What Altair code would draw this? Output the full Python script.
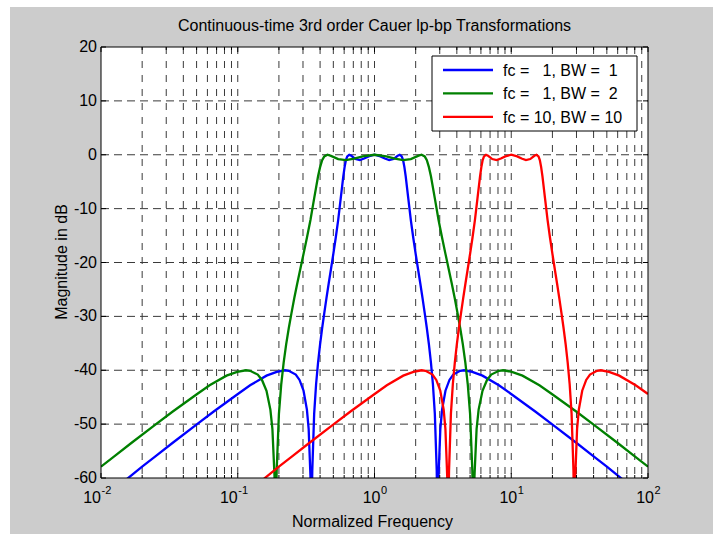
import altair as alt
import pandas as pd

# ---------------------------------------------------------------------------
# Magnitude responses (dB) of the three lowpass -> bandpass transformed
# 3rd order Cauer filters, sampled on a normalized frequency axis.
# ---------------------------------------------------------------------------
blue_freq = [0.01, 0.014283, 0.01999, 0.02498, 0.0333, 0.04988, 0.06637, 0.09902, 0.12311, 0.16228,
             0.19258, 0.22118, 0.23607, 0.26556, 0.28304, 0.30278, 0.32047, 0.33003, 0.34012, 0.34221,
             0.3486, 0.35078, 0.36205, 0.37398, 0.38661, 0.4, 0.41421, 0.42931, 0.44536, 0.46244,
             0.48062, 0.5, 0.52065, 0.54268, 0.56619, 0.59127, 0.60443, 0.61803, 0.63208, 0.65342,
             0.67703, 0.72649, 0.78078, 0.8402, 0.905, 1.0,
             1.10499, 1.1902, 1.28078, 1.37649, 1.47703, 1.53041, 1.58208, 1.61803, 1.65444, 1.69127,
             1.76619, 1.84269, 1.92066, 2.0, 2.08062, 2.16244, 2.24536, 2.32931, 2.41421, 2.5,
             2.58661, 2.67398, 2.76205, 2.85078, 2.8686, 2.92221, 2.94012, 3.03003, 3.12047, 3.30278,
             3.53305, 3.76556, 4.23607, 4.52118, 5.19258, 6.16228, 8.12311, 10.09902, 15.06637, 20.04988,
             30.0333, 40.02499, 50.02, 70.01429, 100.0]
blue_db = [-63.9, -60.9, -57.9, -56.0, -53.5, -50.1, -47.7, -44.5, -42.8, -41.0,
           -40.3, -40.0, -40.1, -40.8, -41.8, -43.8, -47.3, -50.9, -59.6, -63.8,
           -63.3, -58.6, -48.1, -42.6, -38.6, -35.2, -32.2, -29.4, -26.6, -23.9,
           -21.2, -18.4, -15.4, -12.1, -8.1, -4.0, -2.3, -1.0, -0.3, 0.0,
           -0.2, -0.8, -1.0, -0.7, -0.3, 0.0,
           -0.3, -0.7, -1.0, -0.8, -0.2, 0.0, -0.3, -1.0, -2.3, -4.0,
           -8.1, -12.1, -15.4, -18.4, -21.2, -23.9, -26.6, -29.4, -32.2, -35.2,
           -38.6, -42.6, -48.1, -58.6, -63.3, -63.8, -59.6, -50.9, -47.3, -43.8,
           -41.8, -40.8, -40.1, -40.0, -40.3, -41.0, -42.8, -44.5, -47.7, -50.1,
           -53.5, -56.0, -57.9, -60.9, -63.9]

green_freq = [0.01, 0.012498, 0.01666, 0.02498, 0.0333, 0.04988, 0.06226, 0.08276, 0.09902, 0.11475,
              0.12311, 0.14005, 0.15037, 0.16228, 0.17321, 0.17924, 0.18568, 0.18702, 0.19116, 0.19258,
              0.2, 0.20799, 0.21661, 0.22594, 0.23607, 0.24709, 0.25913, 0.27231, 0.2868, 0.30278,
              0.32047, 0.34012, 0.36205, 0.38661, 0.4, 0.41421, 0.42931, 0.45308, 0.48062, 0.54268,
              0.61803, 0.70948, 0.8198, 1.0,
              1.2198, 1.40948, 1.61803, 1.84269, 2.08062, 2.20711, 2.32931, 2.41421, 2.5, 2.58661,
              2.76205, 2.94012, 3.12047, 3.30278, 3.4868, 3.67231, 3.85913, 4.04709, 4.23607, 4.42594,
              4.61661, 4.80799, 5.0, 5.19258, 5.23117, 5.34706, 5.38568, 5.57924, 5.77321, 6.16228,
              6.65037, 7.14005, 8.12311, 8.71475, 10.09902, 12.08276, 16.06226, 20.04988, 30.0333, 40.02498,
              60.01666, 80.0125, 100.0]
green_db = [-57.9, -56.0, -53.5, -50.1, -47.7, -44.5, -42.8, -41.0, -40.3, -40.0,
            -40.1, -40.8, -41.8, -43.8, -47.3, -50.9, -59.6, -63.8, -63.3, -58.6,
            -48.1, -42.6, -38.6, -35.2, -32.2, -29.4, -26.6, -23.9, -21.2, -18.4,
            -15.4, -12.1, -8.1, -4.0, -2.3, -1.0, -0.3, 0.0, -0.2, -0.8,
            -1.0, -0.7, -0.3, 0.0,
            -0.3, -0.7, -1.0, -0.8, -0.2, 0.0, -0.3, -1.0, -2.3, -4.0,
            -8.1, -12.1, -15.4, -18.4, -21.2, -23.9, -26.6, -29.4, -32.2, -35.2,
            -38.6, -42.6, -48.1, -58.6, -63.3, -63.8, -59.6, -50.9, -47.3, -43.8,
            -41.8, -40.8, -40.1, -40.0, -40.3, -41.0, -42.8, -44.5, -47.7, -50.1,
            -53.5, -56.0, -57.9]

red_freq = [0.1, 0.14283, 0.1999, 0.2498, 0.333, 0.4988, 0.6637, 0.9902, 1.2311, 1.6228,
            1.9258, 2.2118, 2.3607, 2.6556, 2.8304, 3.0278, 3.2047, 3.3003, 3.4012, 3.4221,
            3.486, 3.5078, 3.6205, 3.7398, 3.8661, 4.0, 4.1421, 4.2931, 4.4536, 4.6244,
            4.8062, 5.0, 5.2065, 5.4268, 5.6619, 5.9127, 6.0443, 6.1803, 6.3208, 6.5342,
            6.7703, 7.2649, 7.8078, 8.402, 9.05, 10.0,
            11.0499, 11.902, 12.8078, 13.7649, 14.7703, 15.3041, 15.8208, 16.1803, 16.5444, 16.9127,
            17.6619, 18.4269, 19.2066, 20.0, 20.8062, 21.6244, 22.4536, 23.2931, 24.1421, 25.0,
            25.8661, 26.7398, 27.6205, 28.5078, 28.686, 29.2221, 29.4012, 30.3003, 31.2047, 33.0278,
            35.3305, 37.6556, 42.3607, 45.2118, 51.9258, 61.6228, 81.2311, 100.0]
red_db = [-63.9, -60.9, -57.9, -56.0, -53.5, -50.1, -47.7, -44.5, -42.8, -41.0,
          -40.3, -40.0, -40.1, -40.8, -41.8, -43.8, -47.3, -50.9, -59.6, -63.8,
          -63.3, -58.6, -48.1, -42.6, -38.6, -35.2, -32.2, -29.4, -26.6, -23.9,
          -21.2, -18.4, -15.4, -12.1, -8.1, -4.0, -2.3, -1.0, -0.3, 0.0,
          -0.2, -0.8, -1.0, -0.7, -0.3, 0.0,
          -0.3, -0.7, -1.0, -0.8, -0.2, 0.0, -0.3, -1.0, -2.3, -4.0,
          -8.1, -12.1, -15.4, -18.4, -21.2, -23.9, -26.6, -29.4, -32.2, -35.2,
          -38.6, -42.6, -48.1, -58.6, -63.3, -63.8, -59.6, -50.9, -47.3, -43.8,
          -41.8, -40.8, -40.1, -40.0, -40.3, -41.0, -42.8, -44.4]

series_labels = ["fc =\u00a0\u00a0\u00a01, BW =\u00a0\u00a01",
                 "fc =\u00a0\u00a0\u00a01, BW =\u00a0\u00a02",
                 "fc = 10, BW = 10"]
series_colors = ["#0000ff", "#008000", "#ff0000"]

# axis ticks / grid positions
x_major = [0.01, 0.1, 1, 10, 100]
x_minor = [m * d for d in (0.01, 0.1, 1, 10) for m in range(2, 10)]
x_exponents = ["-2", "-1", "0", "1", "2"]
y_ticks = [-60, -50, -40, -30, -20, -10, 0, 10, 20]

title_text = "Continuous-time 3rd order Cauer lp-bp Transformations"
x_title = "Normalized Frequency"
y_title = "Magnitude in dB"

# ---------------------------------------------------------------------------
PLOT_W, PLOT_H = 547, 431
FONT = "Liberation Sans"
GRID = "#3a3a3a"

x_scale = alt.Scale(type="log", domain=[0.01, 100], nice=False)
y_scale = alt.Scale(domain=[-60, 20], nice=False, zero=False)
one = pd.DataFrame({"k": [0]})


def xenc(field="freq"):
    return alt.X(f"{field}:Q", scale=x_scale, axis=None)


def yenc(field="db"):
    return alt.Y(f"{field}:Q", scale=y_scale, axis=None)


# figure and axes backgrounds
figure_bg = alt.Chart(one).mark_rect(color="#cccccc").encode(
    x=alt.value(-91), x2=alt.value(612), y=alt.value(-40), y2=alt.value(487))
axes_bg = alt.Chart(one).mark_rect(color="white").encode(
    x=alt.value(0), x2=alt.value(PLOT_W), y=alt.value(0), y2=alt.value(PLOT_H))

# dashed grid
xgrid_df = pd.DataFrame({"freq": [v for v in x_minor + x_major if 0.01 < v < 100]})
ygrid_df = pd.DataFrame({"db": [v for v in y_ticks if -60 < v < 20]})
vgrid = alt.Chart(xgrid_df).mark_rule(stroke=GRID, strokeWidth=1, strokeDash=[7, 7]).encode(
    x=xenc(), y=alt.value(0), y2=alt.value(PLOT_H))
hgrid = alt.Chart(ygrid_df).mark_rule(stroke=GRID, strokeWidth=1, strokeDash=[8, 5]).encode(
    y=yenc(), x=alt.value(0), x2=alt.value(PLOT_W))


def curve(freq, db, color):
    df = pd.DataFrame({"freq": freq, "db": db})
    return alt.Chart(df).mark_line(color=color, strokeWidth=2.3, clip=True).encode(
        x=xenc(), y=yenc())


blue = curve(blue_freq, blue_db, series_colors[0])
green = curve(green_freq, green_db, series_colors[1])
red = curve(red_freq, red_db, series_colors[2])

# legend box
LX0, LX1, LY0, LY1 = 331, 536, 9, 84
legend_box = alt.Chart(one).mark_rect(fill="white", stroke="black", strokeWidth=1).encode(
    x=alt.value(LX0), x2=alt.value(LX1), y=alt.value(LY0), y2=alt.value(LY1))
legend_layers = []
for i, (lab, col) in enumerate(zip(series_labels, series_colors)):
    yy = 23 + i * 23.4
    legend_layers.append(alt.Chart(one).mark_rule(color=col, strokeWidth=2.3).encode(
        x=alt.value(342), x2=alt.value(392), y=alt.value(yy)))
    legend_layers.append(alt.Chart(one).mark_text(
        text=lab, font=FONT, fontSize=16, align="left", baseline="middle", color="black").encode(
        x=alt.value(402), y=alt.value(yy + 1)))

# inward ticks on all four sides
xmaj_df = pd.DataFrame({"freq": x_major})
xmin_df = pd.DataFrame({"freq": x_minor})
ytick_df = pd.DataFrame({"db": y_ticks})
ticks = [
    alt.Chart(xmaj_df).mark_rule(color="black").encode(x=xenc(), y=alt.value(PLOT_H), y2=alt.value(PLOT_H - 5)),
    alt.Chart(xmaj_df).mark_rule(color="black").encode(x=xenc(), y=alt.value(0), y2=alt.value(5)),
    alt.Chart(xmin_df).mark_rule(color="black").encode(x=xenc(), y=alt.value(PLOT_H), y2=alt.value(PLOT_H - 3)),
    alt.Chart(xmin_df).mark_rule(color="black").encode(x=xenc(), y=alt.value(0), y2=alt.value(3)),
    alt.Chart(ytick_df).mark_rule(color="black").encode(y=yenc(), x=alt.value(0), x2=alt.value(5)),
    alt.Chart(ytick_df).mark_rule(color="black").encode(y=yenc(), x=alt.value(PLOT_W), x2=alt.value(PLOT_W - 5)),
]
border = alt.Chart(one).mark_rect(fillOpacity=0, stroke="black", strokeWidth=1).encode(
    x=alt.value(0), x2=alt.value(PLOT_W), y=alt.value(0), y2=alt.value(PLOT_H))

# tick labels
xlab_df = pd.DataFrame({"freq": x_major, "exp": x_exponents})
xlab_neg = xlab_df[xlab_df["exp"].str.startswith("-")]
xlab_pos = xlab_df[~xlab_df["exp"].str.startswith("-")]
xlabels = []
for sub, shift in ((xlab_neg, 0), (xlab_pos, 6)):
    xlabels.append(alt.Chart(sub).mark_text(
        text="10", font=FONT, fontSize=16, align="right", baseline="alphabetic", dx=shift, color="black").encode(
        x=xenc(), y=alt.value(456)))
    xlabels.append(alt.Chart(sub).mark_text(
        font=FONT, fontSize=11, align="left", baseline="alphabetic", dx=shift + 0.5, color="black").encode(
        x=xenc(), y=alt.value(447), text="exp:N"))

ylab_df = pd.DataFrame({"db": y_ticks, "label": [str(v) for v in y_ticks]})
ylabels = alt.Chart(ylab_df).mark_text(
    font=FONT, fontSize=16, align="right", baseline="middle", dx=0, color="black").encode(
    y=yenc(), x=alt.value(-4), text="label:N")

texts = [
    alt.Chart(one).mark_text(text=title_text, font=FONT, fontSize=16, align="center",
                             baseline="alphabetic", color="black").encode(
        x=alt.value(PLOT_W / 2), y=alt.value(-16)),
    alt.Chart(one).mark_text(text=x_title, font=FONT, fontSize=16, align="center",
                             baseline="alphabetic", color="black").encode(
        x=alt.value(271.5), y=alt.value(480)),
    alt.Chart(one).mark_text(text=y_title, font=FONT, fontSize=16, align="center",
                             baseline="middle", angle=270, color="black").encode(
        x=alt.value(-39), y=alt.value(215)),
]

chart = alt.layer(
    figure_bg, axes_bg, vgrid, hgrid, blue, green, red,
    legend_box, *legend_layers, *ticks, border, *xlabels, ylabels, *texts,
).properties(
    width=PLOT_W, height=PLOT_H,
    autosize=alt.AutoSizeParams(type="none"),
    padding={"left": 101, "top": 47, "right": 65, "bottom": 56},
    background="white",
).configure_view(stroke=None)

chart.save("out.html", embed_options={"renderer": "svg", "actions": False})
